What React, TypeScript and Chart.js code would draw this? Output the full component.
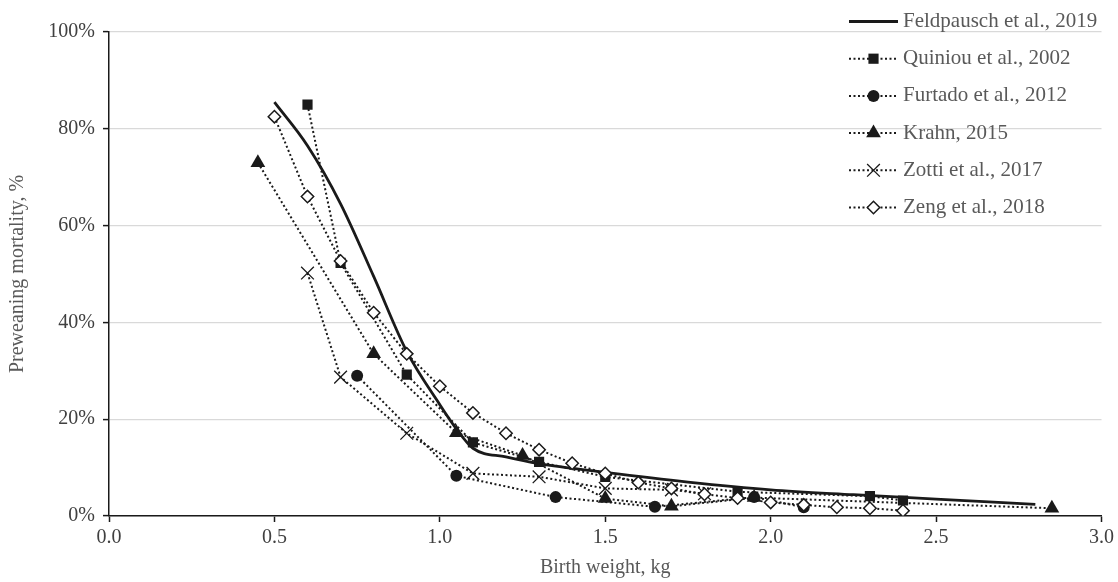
import React, { useEffect, useRef } from "react";
import { Chart, registerables } from "chart.js";
import { drawPoint } from "chart.js/helpers";

Chart.register(...registerables);

// ---- data ----
const seriesNames = [
  "Feldpausch et al., 2019",
  "Quiniou et al., 2002",
  "Furtado et al., 2012",
  "Krahn, 2015",
  "Zotti et al., 2017",
  "Zeng et al., 2018",
];

const feldX = [0.5, 0.6, 0.7, 0.8, 0.9, 1.0, 1.05, 1.1, 1.2, 1.3, 1.5, 1.75, 2.0, 2.25, 2.5, 2.8];
const feldY = [85.5, 76.5, 64.5, 49.5, 34, 23, 18, 14, 12.2, 10.8, 9, 7, 5.4, 4.4, 3.5, 2.4];

const quiX = [0.6, 0.7, 0.9, 1.1, 1.3, 1.5, 1.9, 2.3, 2.4];
const quiY = [85, 52.3, 29.2, 15.2, 11.2, 8.1, 5.0, 4.1, 3.2];

const furX = [0.75, 1.05, 1.35, 1.65, 1.95, 2.1];
const furY = [29, 8.3, 3.9, 1.9, 3.9, 1.8];

const kraX = [0.45, 0.8, 1.05, 1.25, 1.5, 1.7, 1.95, 2.85];
const kraY = [73, 33.5, 17.2, 12.5, 3.6, 2.0, 3.8, 1.6];

const zotX = [0.6, 0.7, 0.9, 1.1, 1.3, 1.5, 1.7, 1.8];
const zotY = [50.2, 28.7, 17.1, 8.8, 8.1, 5.7, 5.4, 4.6];

const zenX = [0.5, 0.6, 0.7, 0.8, 0.9, 1.0, 1.1, 1.2, 1.3, 1.4, 1.5, 1.6, 1.7, 1.8, 1.9, 2.0, 2.1, 2.2, 2.3, 2.4];
const zenY = [82.5, 66, 52.7, 42, 33.5, 26.8, 21.3, 17.1, 13.7, 10.9, 8.8, 6.9, 5.7, 4.5, 3.7, 2.8, 2.3, 1.8, 1.6, 1.1];

const xTicks = [0, 0.5, 1.0, 1.5, 2.0, 2.5, 3.0];
const yTicks = [0, 20, 40, 60, 80, 100];

const pts = (xs: number[], ys: number[]) => xs.map((x, i) => ({ x, y: ys[i] }));

const FONT = "'Liberation Serif', 'Times New Roman', serif";
const INK = "#1a1a1a";

const legendPlugin = {
  id: "customLegend",
  afterDraw(chart: any) {
    const ctx = chart.ctx as CanvasRenderingContext2D;
    const x0 = 849;
    const x1 = 898;
    const tx = 903;
    const y0 = 21.5;
    const dy = 37.2;
    chart.data.datasets.forEach((ds: any, i: number) => {
      const y = y0 + i * dy;
      ctx.save();
      ctx.strokeStyle = ds.borderColor;
      ctx.lineWidth = ds.borderWidth;
      ctx.setLineDash(ds.borderDash || []);
      ctx.beginPath();
      ctx.moveTo(x0, y);
      ctx.lineTo(x1, y);
      ctx.stroke();
      ctx.setLineDash([]);
      if (ds.pointRadius > 0) {
        ctx.fillStyle = ds.pointBackgroundColor;
        ctx.strokeStyle = ds.pointBorderColor;
        ctx.lineWidth = ds.pointBorderWidth;
        drawPoint(ctx, { pointStyle: ds.pointStyle, rotation: 0, radius: ds.pointRadius, borderWidth: ds.pointBorderWidth }, (x0 + x1) / 2, y);
      }
      ctx.fillStyle = "#595959";
      ctx.font = `21px ${FONT}`;
      ctx.textAlign = "left";
      ctx.textBaseline = "middle";
      ctx.fillText(seriesNames[i], tx, y);
      ctx.restore();
    });
  },
};

const dotted = [2, 2.5];

export default function App() {
  const ref = useRef<HTMLCanvasElement | null>(null);
  useEffect(() => {
    if (!ref.current) return;
    const common = { showLine: true, borderColor: INK, pointBorderColor: INK, pointHoverRadius: 0 };
    const chart = new Chart(ref.current, {
      type: "scatter",
      data: {
        datasets: [
          { ...common, label: seriesNames[0], data: pts(feldX, feldY), borderWidth: 2.8, pointRadius: 0, cubicInterpolationMode: "monotone", order: 6 },
          { ...common, label: seriesNames[1], data: pts(quiX, quiY), borderWidth: 2, borderDash: dotted, pointStyle: "rect", pointRadius: 7.2, pointBackgroundColor: INK, pointBorderWidth: 0, order: 5 },
          { ...common, label: seriesNames[2], data: pts(furX, furY), borderWidth: 2, borderDash: dotted, pointStyle: "circle", pointRadius: 6, pointBackgroundColor: INK, pointBorderWidth: 0, order: 4 },
          { ...common, label: seriesNames[3], data: pts(kraX, kraY), borderWidth: 2, borderDash: dotted, pointStyle: "triangle", pointRadius: 8.5, pointBackgroundColor: INK, pointBorderWidth: 0, order: 3 },
          { ...common, label: seriesNames[4], data: pts(zotX, zotY), borderWidth: 2, borderDash: dotted, pointStyle: "crossRot", pointRadius: 9, pointBackgroundColor: INK, pointBorderWidth: 1.3, order: 2 },
          { ...common, label: seriesNames[5], data: pts(zenX, zenY), borderWidth: 2, borderDash: dotted, pointStyle: "rectRot", pointRadius: 6.2, pointBackgroundColor: "#ffffff", pointBorderWidth: 1.5, order: 1 },
        ] as any,
      },
      options: {
        animation: false,
        responsive: false,
        devicePixelRatio: 1,
        layout: { padding: { top: 32, right: 14, left: 0, bottom: 0 } },
        plugins: { legend: { display: false }, tooltip: { enabled: false } },
        scales: {
          x: {
            type: "linear",
            min: 0,
            max: 3,
            afterBuildTicks: (s: any) => { s.ticks = xTicks.map((v) => ({ value: v })); },
            afterFit: (s: any) => { s.height = 66; },
            border: { color: INK, width: 1.5 },
            grid: { drawOnChartArea: false, drawTicks: true, tickLength: 6, tickColor: INK, tickWidth: 1.5 },
            ticks: { color: "#404040", font: { family: FONT, size: 20 }, padding: 4, callback: (v: any) => Number(v).toFixed(1) },
            title: { display: true, text: "Birth weight, kg", color: "#595959", font: { family: FONT, size: 20 }, padding: { top: 0, bottom: 2 } },
          },
          y: {
            type: "linear",
            min: 0,
            max: 100,
            afterBuildTicks: (s: any) => { s.ticks = yTicks.map((v) => ({ value: v })); },
            afterFit: (s: any) => { s.width = 109; },
            border: { color: INK, width: 1.5 },
            grid: { color: "#d9d9d9", lineWidth: 1.2, drawTicks: true, tickLength: 6, tickColor: INK, tickWidth: 1.5 },
            ticks: { color: "#404040", font: { family: FONT, size: 20 }, padding: 8, callback: (v: any) => `${v}%` },
            title: { display: true, text: "Preweaning mortality, %", color: "#595959", font: { family: FONT, size: 20 }, padding: { top: 6, bottom: 0 } },
          },
        },
      },
      plugins: [legendPlugin],
    });
    return () => chart.destroy();
  }, []);
  return (
    <div style={{ position: "fixed", left: 0, top: 0, width: 1118, height: 582, background: "#fff" }}>
      <canvas ref={ref} width={1118} height={582} style={{ display: "block" }} />
    </div>
  );
}
